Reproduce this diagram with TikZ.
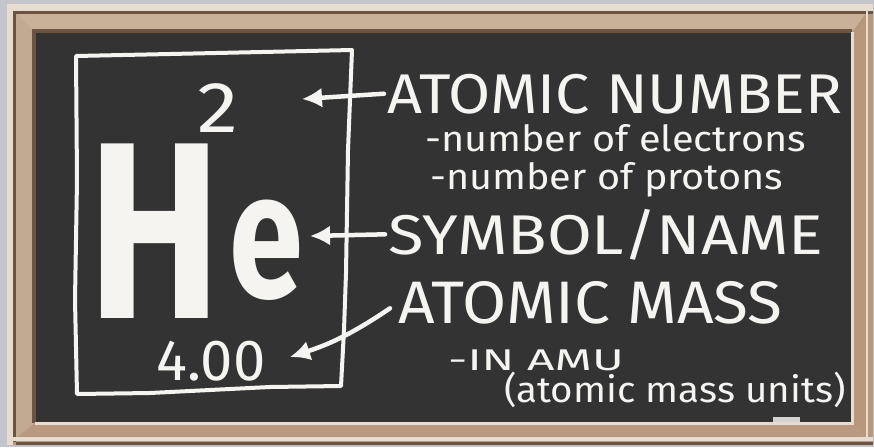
\documentclass[tikz,border=0pt]{standalone}
\usepackage{fontspec}
\setmainfont{Fira Sans}
\usepackage{tikz}
\usetikzlibrary{arrows.meta, positioning, calc}

\definecolor{board}{HTML}{333333}
\definecolor{woodlt}{HTML}{C9B098}
\definecolor{wooddk}{HTML}{B8987D}
\definecolor{woodedge}{HTML}{6B5444}
\definecolor{woodhi}{HTML}{E6DCCF}
\definecolor{chalk}{HTML}{F6F4F0}

\tikzset{
  chalkline/.style={draw=chalk, line width=4pt, line cap=round, line join=round},
  chalkarrow/.style={chalkline, line width=4.5pt, -{Latex[length=20pt,width=20pt]}},
  chalktext/.style={text=chalk, inner sep=0pt},
  headtext/.style={chalktext, font=\fontsize{56}{56}\selectfont},
  subtext/.style={chalktext, font=\fontsize{36}{36}\selectfont},
}

\begin{document}
\begin{tikzpicture}[x=1pt, y=-1pt]
  % page and frame
  \fill[white!95!blue!60!gray] (0,0) rectangle (874,447);
  \useasboundingbox (0,0) rectangle (874,447);
  \fill[woodlt] (7,4) -- (873,4) -- (852,32) -- (35,32) -- cycle;
  \fill[woodlt!96!black] (7,4) -- (35,32) -- (35,423) -- (7,445) -- cycle;
  \fill[wooddk] (873,4) -- (873,445) -- (852,423) -- (852,32) -- cycle;
  \fill[wooddk!98!white] (7,445) -- (873,445) -- (852,423) -- (35,423) -- cycle;
  \fill[woodhi] (7,4) rectangle (873,11);
  \fill[woodhi] (7,4) rectangle (13,445);
  \fill[woodedge] (13,11) rectangle (873,14);
  \fill[woodedge] (13,11) rectangle (16,442);
  \fill[woodhi] (7,437) rectangle (873,441);
  \fill[woodedge] (16,442) rectangle (873,445);
  \fill[woodhi] (866,11) rectangle (868,441);
  % board
  \fill[board] (35,32) rectangle (852,423);
  \fill[woodedge] (32,29) rectangle (852,33);
  \fill[woodedge] (32,29) rectangle (36,423);
  \fill[woodhi] (35,422) rectangle (854,425);
  \fill[woodhi] (851,32) rectangle (854,425);
  \fill[gray!35] (773,417) rectangle (800,422);

  % element box
  \draw[chalkline] (76,56) -- (170,54) -- (262,52) -- (352,50) -- (348,150)
    -- (346,273) -- (344,330) -- (341,386) -- (270,387) -- (210,390)
    -- (150,393) -- (77,394) -- (75,300) -- (77,180) -- cycle;
  \node[chalktext, font=\fontsize{72}{72}\selectfont\addfontfeatures{FakeStretch=1.15}] (num) at (218,108) {2};
  \node[chalktext, font=\bfseries, anchor=base, text depth=0pt] (sym) at (196,318)
    {\scalebox{0.79}[1]{\fontsize{252}{252}\selectfont H}\hspace{8pt}\raisebox{21pt}{\scalebox{0.75}[1]{\fontsize{178}{178}\selectfont e}}};
  \node[chalktext, font=\fontsize{58}{58}\selectfont] (mass) at (211,361) {4.00};

  % labels
  \node[headtext, font=\fontsize{56}{56}\selectfont\addfontfeatures{FakeStretch=1.09}, anchor=base west] (lblnum) at (387,113) {ATOMIC NUMBER};
  \node[subtext, font=\fontsize{36}{36}\selectfont\addfontfeatures{FakeStretch=1.1}, anchor=base west] (electrons) at (425,151) {-number of electrons};
  \node[subtext, font=\fontsize{36}{36}\selectfont\addfontfeatures{FakeStretch=1.1}, anchor=base west] (protons) at (430,189) {-number of protons};
  \node[headtext, font=\fontsize{56}{56}\selectfont\addfontfeatures{FakeStretch=1.16}, anchor=base west] (lblsym) at (388,254) {SYMBOL/NAME};
  \node[headtext, font=\fontsize{60}{60}\selectfont\addfontfeatures{FakeStretch=1.065}, anchor=base west] (lblmass) at (398,323) {ATOMIC MASS};
  \node[chalktext, font=\fontsize{30}{30}\selectfont\addfontfeatures{FakeStretch=1.6}, anchor=base west] (amu) at (448,370) {-IN AMU};
  \node[subtext, font=\fontsize{36}{36}\selectfont\addfontfeatures{FakeStretch=1.07}, anchor=base west] (units) at (504,402) {(atomic mass units)};

  % arrows
  \coordinate (numtip) at (302,99);
  \coordinate (symtip) at (310,236);
  \coordinate (masstip) at (290,357);
  \draw[chalkarrow] ([xshift=-3pt]lblnum.west) -- (numtip);
  \draw[chalkarrow] ([xshift=-3pt]lblsym.west) -- (symtip);
  \draw[chalkarrow] ([xshift=-8pt,yshift=-6pt]lblmass.west) to[bend left=8] (masstip);
\end{tikzpicture}
\end{document}
